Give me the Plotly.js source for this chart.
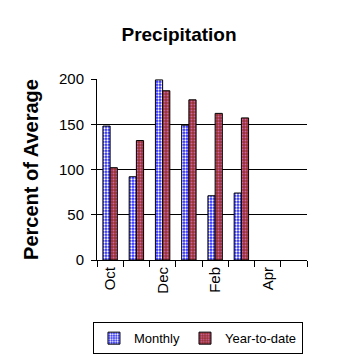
<!DOCTYPE html>
<html>
<head>
<meta charset="utf-8">
<script src="https://cdn.plot.ly/plotly-3.0.1.min.js"></script>
<style>html,body{margin:0;padding:0;background:#fff;}#chart{width:358px;height:358px;}</style>
</head>
<body>
<div id="chart"></div>
<script>
const months = ['Oct','Nov','Dec','Jan','Feb','Mar','Apr','May'];
const tickLabels = ['Oct','','Dec','','Feb','','Apr',''];
const monthly = [148, 92, 199, 149, 71, 74, null, null];
const yearToDate = [102, 132, 187, 177, 162, 157, null, null];

const font = 'Arial, "Liberation Sans", sans-serif';
const data = [
  {type:'bar', name:'Monthly', x:months, y:monthly,
   marker:{color:'#3333ff', line:{color:'#000', width:1},
           pattern:{shape:'.', fgcolor:'#ffffff', bgcolor:'#2222ff', size:3, solidity:0.45}}},
  {type:'bar', name:'Year-to-date', x:months, y:yearToDate,
   marker:{color:'#993333', line:{color:'#000', width:1},
           pattern:{shape:'.', fgcolor:'#cc66aa', bgcolor:'#993333', size:3, solidity:0.3}}}
];
const layout = {
  width:358, height:358,
  margin:{l:97, r:51, t:79, b:98, autoexpand:false},
  paper_bgcolor:'#fff', plot_bgcolor:'#fff',
  font:{family:font, color:'#000', size:15},
  title:{text:'<b>Precipitation</b>', x:0.5, xanchor:'center', y:0.905, yanchor:'middle', font:{size:19, family:font}},
  barmode:'group', bargap:0.45, bargroupgap:0,
  showlegend:true,
  legend:{orientation:'h', x:0.553, xanchor:'center', xref:'container', y:0.10, yanchor:'top', yref:'container',
          bordercolor:'#000', borderwidth:1, font:{size:13, family:font}, traceorder:'normal', itemwidth:30},
  xaxis:{type:'category', tickvals:months, ticktext:tickLabels, tickangle:-90, tickson:'boundaries',
         ticks:'outside', ticklen:6, tickcolor:'#000', showline:true, linecolor:'#000', linewidth:1,
         showgrid:false, range:[-0.5,7.5], tickfont:{size:15, family:font}, automargin:false},
  yaxis:{range:[0,200], tickvals:[0,50,100,150,200], ticks:'outside', ticklen:5, tickcolor:'#000',
         showline:true, linecolor:'#000', linewidth:1, showgrid:true, gridcolor:'#000', gridwidth:1,
         zeroline:false, tickfont:{size:15, family:font}, ticklabelstandoff:4, automargin:false,
         title:{text:'<b>Percent of Average</b>', font:{size:20, family:font}, standoff:14}}
};
Plotly.newPlot('chart', data, layout, {displayModeBar:false, staticPlot:true});
</script>
</body>
</html>
